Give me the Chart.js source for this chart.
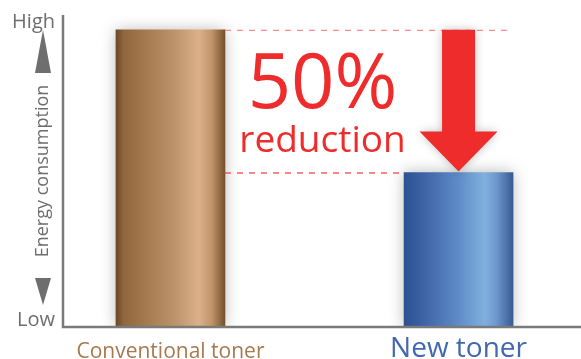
<!DOCTYPE html>
<html>
<head>
<meta charset="utf-8">
<script src="https://cdn.jsdelivr.net/npm/chart.js@4/dist/chart.umd.min.js"></script>
<style>
  html, body { margin: 0; padding: 0; background: #fff; }
  #wrap { width: 581px; height: 359px; }
</style>
</head>
<body>
<div id="wrap"><canvas id="c" width="581" height="359"></canvas></div>
<script>
const categories = ["Conventional toner", "New toner"];
const energyValues = [100, 52];
const yTickLabels = ["Low", "High"];
const axisTitle = "Energy consumption";
const headline = "50%";
const subline = "reduction";

const labelColours = ["#a57a50", "#4268b0"];
const labelSizes = [21, 28];
const labelLineHeights = [1.96, 1.31];

const gradientStops = [
  [[0, "#6c4828"], [0.07, "#8f663e"], [0.3, "#a77c52"], [0.55, "#bd946c"], [0.76, "#dab189"], [0.88, "#c09469"], [1, "#764f2b"]],
  [[0, "#2c5290"], [0.18, "#3e62a6"], [0.5, "#5f8cc8"], [0.74, "#80b0de"], [0.84, "#6f9ad0"], [1, "#385a92"]],
];

const barWidth = 109;

function barFill(ctx) {
  const chart = ctx.chart;
  if (!chart.chartArea) return "#999";
  const cx = chart.scales.x.getPixelForValue(ctx.dataIndex);
  const g = chart.ctx.createLinearGradient(cx - barWidth / 2, 0, cx + barWidth / 2, 0);
  gradientStops[ctx.dataIndex].forEach(([p, c]) => g.addColorStop(p, c));
  return g;
}

const shadowPlugin = {
  id: "shadow",
  beforeDatasetsDraw(chart) {
    const c = chart.ctx;
    c.save();
    c.shadowColor = "rgba(0,0,0,0.28)";
    c.shadowBlur = 14;
  },
  afterDatasetsDraw(chart) {
    chart.ctx.restore();
  },
};

const notesPlugin = {
  id: "notes",
  afterDraw(chart) {
    const c = chart.ctx;
    const x = chart.scales.x, y = chart.scales.y;
    const area = chart.chartArea;
    const yHigh = y.getPixelForValue(energyValues[0]);
    const yLow = y.getPixelForValue(energyValues[1]);
    const b1 = x.getPixelForValue(0), b2 = x.getPixelForValue(1);

    // dashed guide lines
    c.save();
    c.lineWidth = 1.2;
    c.setLineDash([6, 6]);
    c.strokeStyle = "#f48a8a";
    c.beginPath();
    c.moveTo(b1 + barWidth / 2, yHigh + 0.5);
    c.lineTo(b2 + barWidth / 2, yHigh + 0.5);
    c.stroke();
    c.strokeStyle = "#ee3a3a";
    c.beginPath();
    c.moveTo(b1 + barWidth / 2, yLow + 0.5);
    c.lineTo(b2 - barWidth / 2, yLow + 0.5);
    c.stroke();
    c.restore();

    // red arrow
    c.save();
    c.shadowColor = "rgba(0,0,0,0.25)";
    c.shadowBlur = 10;
    c.fillStyle = "#ee2c2c";
    const sw = 16.5, hw = 39, hh = 40;
    const tip = yLow - 1;
    c.beginPath();
    c.moveTo(b2 - sw, yHigh);
    c.lineTo(b2 + sw, yHigh);
    c.lineTo(b2 + sw, tip - hh);
    c.lineTo(b2 + hw, tip - hh);
    c.lineTo(b2, tip);
    c.lineTo(b2 - hw, tip - hh);
    c.lineTo(b2 - sw, tip - hh);
    c.closePath();
    c.fill();
    c.restore();

    // headline text
    const mid = (b1 + barWidth / 2 + b2 - barWidth / 2) / 2 + 8;
    c.save();
    c.fillStyle = "#ee2c2c";
    c.textAlign = "center";
    c.textBaseline = "alphabetic";
    c.font = "500 76px 'Open Sans'";
    c.fillText(headline, mid, yHigh + 78);
    c.font = "500 37px 'Open Sans'";
    c.fillText(subline, mid, yHigh + 122);
    c.restore();

    // arrows next to axis title
    const ax = area.left - 20;
    c.save();
    c.fillStyle = "#6e6e6e";
    c.beginPath();
    c.moveTo(ax, area.top + 15);
    c.lineTo(ax + 8, area.top + 58);
    c.lineTo(ax - 8, area.top + 58);
    c.closePath();
    c.fill();
    c.beginPath();
    c.moveTo(ax - 8, area.bottom - 49);
    c.lineTo(ax + 8, area.bottom - 49);
    c.lineTo(ax, area.bottom - 22);
    c.closePath();
    c.fill();
    c.restore();

    // axis lines
    c.save();
    c.strokeStyle = "#7a7a7a";
    c.lineWidth = 2.5;
    c.beginPath();
    c.moveTo(area.left, area.top);
    c.lineTo(area.left, area.bottom);
    c.lineTo(chart.width, area.bottom);
    c.stroke();
    c.restore();
  },
};

new Chart(document.getElementById("c"), {
  type: "bar",
  data: {
    datasets: [{
      data: energyValues.map((v, i) => ({ x: i, y: v })),
      backgroundColor: barFill,
      borderWidth: 0,
      barThickness: barWidth,
    }],
  },
  options: {
    responsive: false,
    animation: false,
    layout: { padding: { top: 15, right: 0, left: 0, bottom: 0 } },
    plugins: { legend: { display: false }, tooltip: { enabled: false } },
    scales: {
      x: {
        type: "linear",
        offset: false,
        min: -0.373,
        max: 1.425,
        grid: { display: false, drawTicks: false },
        border: { display: false },
        afterBuildTicks: (s) => { s.ticks = categories.map((c, i) => ({ value: i })); },
        afterFit: (s) => { s.height = 32; s.paddingLeft = 0; s.paddingRight = 0; },
        ticks: {
          padding: 4,
          autoSkip: false,
          maxRotation: 0,
          callback: (v) => categories[v],
          color: (ctx) => labelColours[ctx.index],
          font: (ctx) => ({ family: "'Open Sans'", size: labelSizes[ctx.index], weight: 500, lineHeight: labelLineHeights[ctx.index] }),
        },
      },
      y: {
        min: 0,
        max: 105,
        grid: { display: false, drawTicks: false },
        border: { display: false },
        afterBuildTicks: (s) => { s.ticks = [{ value: 2.3 }, { value: 102.7 }]; },
        afterFit: (s) => { s.width = 63; s.paddingTop = 0; s.paddingBottom = 0; },
        title: {
          display: true,
          text: axisTitle,
          color: "#6e6e6e",
          font: { family: "'Open Sans'", size: 18 },
          padding: { top: 32, bottom: 0 },
        },
        ticks: {
          padding: 8,
          color: "#6e6e6e",
          font: { family: "'Open Sans'", size: 20 },
          callback: (v, i) => yTickLabels[i],
        },
      },
    },
  },
  plugins: [shadowPlugin, notesPlugin],
});
</script>
</body>
</html>
